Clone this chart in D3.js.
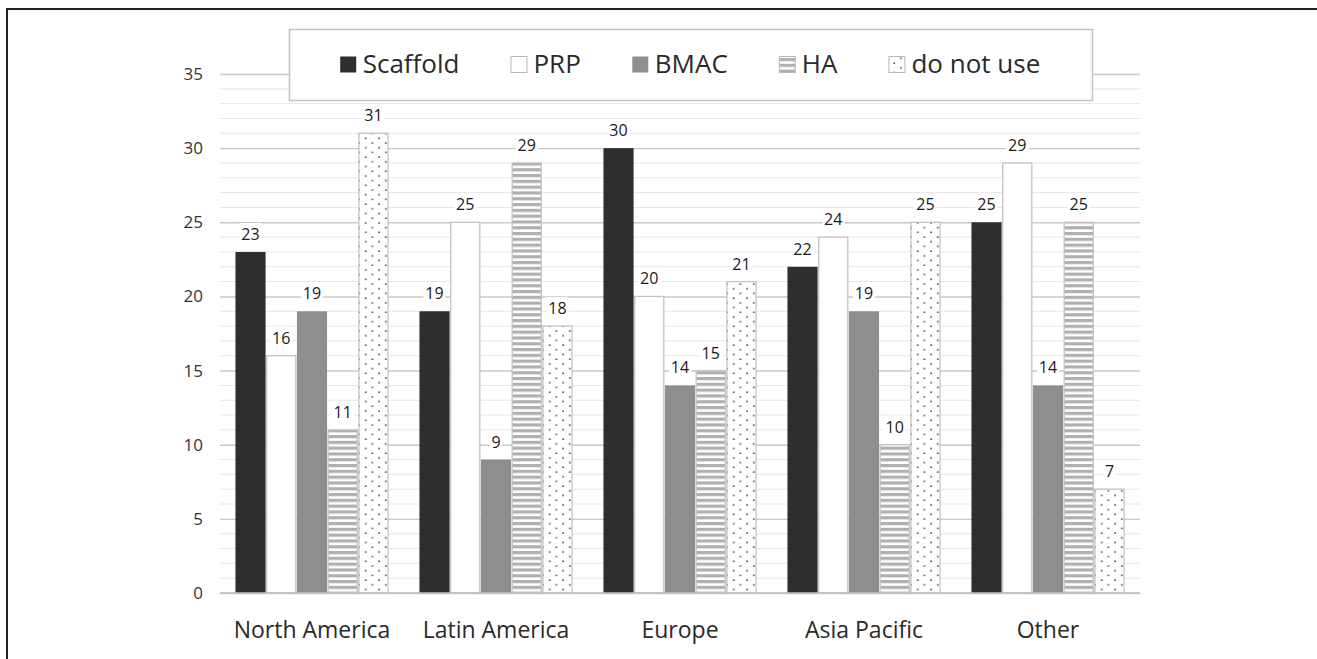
<!DOCTYPE html>
<html>
<head>
<meta charset="utf-8">
<script src="https://cdn.jsdelivr.net/npm/d3@7/dist/d3.min.js"></script>
<style>
  html, body { margin: 0; padding: 0; background: #fff; }
  svg { display: block; font-family: "Open Sans", "DejaVu Sans", sans-serif; }
</style>
</head>
<body>
<svg id="chart" width="1317" height="659"></svg>
<script>
const categories = ["North America", "Latin America", "Europe", "Asia Pacific", "Other"];
const seriesNames = ["Scaffold", "PRP", "BMAC", "HA", "do not use"];
const scaffold = [23, 19, 30, 22, 25];
const prp      = [16, 25, 20, 24, 29];
const bmac     = [19, 9, 14, 19, 14];
const ha       = [11, 29, 15, 10, 25];
const doNotUse = [31, 18, 21, 25, 7];
const yTicks = [0, 5, 10, 15, 20, 25, 30, 35];

const seriesValues = [scaffold, prp, bmac, ha, doNotUse];

const svg = d3.select("#chart");
const W = 1317, H = 659;

// patterns
const defs = svg.append("defs");
const stripe = defs.append("pattern").attr("id", "stripes")
  .attr("patternUnits", "userSpaceOnUse").attr("width", 8).attr("height", 5.8);
stripe.append("rect").attr("width", 8).attr("height", 5.8).attr("fill", "#fff");
stripe.append("rect").attr("y", 0).attr("width", 8).attr("height", 3.2).attr("fill", "#b0b0b0");

const dots = defs.append("pattern").attr("id", "dots")
  .attr("patternUnits", "userSpaceOnUse").attr("width", 13.4).attr("height", 9.4);
dots.append("rect").attr("width", 13.4).attr("height", 9.4).attr("fill", "#fff");
dots.append("circle").attr("cx", 3).attr("cy", 2).attr("r", 0.9).attr("fill", "#444");
dots.append("circle").attr("cx", 9.7).attr("cy", 6.7).attr("r", 0.9).attr("fill", "#444");

const styles = [
  { fill: "#2e2e2e", stroke: "none" },
  { fill: "#ffffff", stroke: "#c4c4c4" },
  { fill: "#8e8e8e", stroke: "none" },
  { fill: "url(#stripes)", stroke: "#c4c4c4" },
  { fill: "url(#dots)", stroke: "#c4c4c4" }
];

// outer border
svg.append("rect").attr("x", 7).attr("y", 9).attr("width", W + 20).attr("height", H + 20)
  .attr("fill", "#fff").attr("stroke", "#222").attr("stroke-width", 2);

const x0 = d3.scaleBand().domain(categories).range([220, 1140]).paddingInner(0.168).paddingOuter(0.084);
const x1 = d3.scaleBand().domain(seriesNames).range([0, x0.bandwidth()]).paddingInner(0.02);
const y = d3.scaleLinear().domain([0, 35]).range([593, 74]);

// minor gridlines
const minor = d3.range(1, 35).filter(v => v % 5 !== 0);
svg.append("g").selectAll("line").data(minor).join("line")
  .attr("x1", 220).attr("x2", 1140)
  .attr("y1", d => y(d)).attr("y2", d => y(d))
  .attr("stroke", "#e6e6e6").attr("stroke-width", 1);

// major gridlines via axis
const yAxis = d3.axisLeft(y).tickValues(yTicks).tickSize(-920).tickPadding(17);
const gy = svg.append("g").attr("transform", "translate(220,0)").call(yAxis);
gy.select(".domain").remove();
gy.selectAll(".tick line").attr("stroke", "#c8c8c8").attr("stroke-width", 1.4);
gy.selectAll(".tick text").attr("fill", "#333").attr("font-size", 17)
  .attr("font-family", "'Open Sans', sans-serif");

// bars
const groups = svg.append("g").selectAll("g").data(categories).join("g")
  .attr("transform", d => `translate(${x0(d)},0)`);

groups.each(function(cat, ci) {
  const g = d3.select(this);
  seriesNames.forEach((s, si) => {
    const v = seriesValues[si][ci];
    const st = styles[si];
    g.append("rect")
      .attr("x", x1(s) + (st.stroke !== "none" ? 0.5 : 0))
      .attr("y", y(v))
      .attr("width", x1.bandwidth() - (st.stroke !== "none" ? 1 : 0))
      .attr("height", y(0) - y(v))
      .attr("fill", st.fill)
      .attr("stroke", st.stroke)
      .attr("stroke-width", 1.3);
  });
});

// axis baseline
svg.append("line").attr("x1", 220).attr("x2", 1140).attr("y1", y(0)).attr("y2", y(0))
  .attr("stroke", "#c0c0c0").attr("stroke-width", 1.4);

// value labels
groups.each(function(cat, ci) {
  const g = d3.select(this);
  seriesNames.forEach((s, si) => {
    const v = seriesValues[si][ci];
    const cx = x1(s) + x1.bandwidth() / 2;
    const lg = g.append("g");
    const t = lg.append("text")
      .attr("x", cx).attr("y", y(v) - 12)
      .attr("text-anchor", "middle")
      .attr("font-size", 16).attr("fill", "#1a1a1a")
      .text(v);
    const bb = t.node().getBBox();
    lg.insert("rect", "text")
      .attr("x", bb.x - 2).attr("y", bb.y)
      .attr("width", bb.width + 4).attr("height", bb.height)
      .attr("fill", "#fff");
  });
});

// category labels
svg.append("g").selectAll("text").data(categories).join("text")
  .attr("x", d => x0(d) + x0.bandwidth() / 2)
  .attr("y", 638)
  .attr("text-anchor", "middle")
  .attr("font-size", 23).attr("fill", "#2a2a2a")
  .text(d => d);

// legend
svg.append("rect").attr("x", 289.5).attr("y", 29.5).attr("width", 803).attr("height", 71)
  .attr("fill", "#fff").attr("stroke", "#c2c2c2").attr("stroke-width", 1.5);

const lg = svg.append("g");
const sw = 17;
const gap = 51;
// measure total to center in box
const tmp = lg.append("g");
const widths = seriesNames.map(s => {
  const t = tmp.append("text").attr("font-size", 26).text(s);
  const w = t.node().getComputedTextLength();
  return w;
});
tmp.remove();
const total = d3.sum(widths) + seriesNames.length * (sw + 6) + gap * (seriesNames.length - 1);
let lx = 690 - total / 2;
seriesNames.forEach((s, si) => {
  const st = styles[si];
  lg.append("rect").attr("x", lx + 0.5).attr("y", 56.5).attr("width", sw - 1).attr("height", sw - 1)
    .attr("fill", st.fill).attr("stroke", st.stroke === "none" ? "none" : "#b8b8b8").attr("stroke-width", 1);
  lg.append("text").attr("x", lx + sw + 6).attr("y", 73)
    .attr("font-size", 26).attr("fill", "#2a2a2a").text(s);
  lx = lx + sw + 6 + widths[si] + gap;
});
</script>
</body>
</html>
